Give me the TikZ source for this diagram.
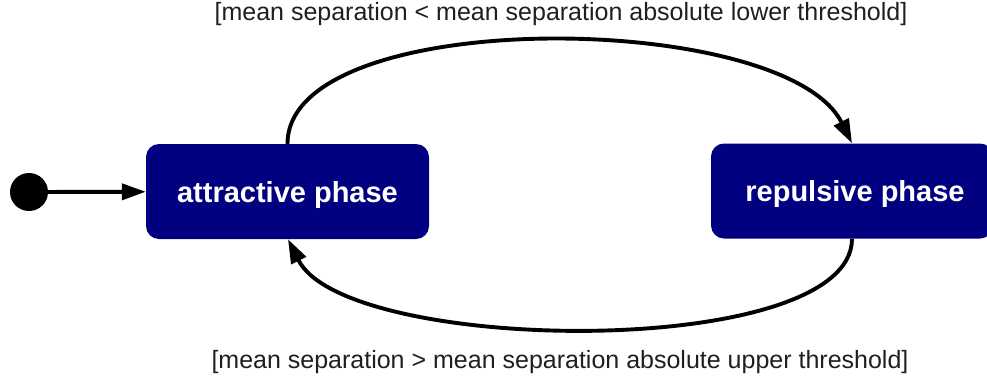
\documentclass[tikz,border=0pt]{standalone}
\usepackage{fontspec}
\setmainfont{Liberation Sans}
\usetikzlibrary{arrows.meta}
\definecolor{statefill}{HTML}{000080}
\tikzset{
  statebox/.style={draw=none, fill=statefill, rounded corners=13pt,
    minimum width=283pt, minimum height=95pt, inner sep=0pt,
    text height=21pt, text depth=0pt,
    text=white, font=\fontsize{29}{34}\selectfont\bfseries},
  guard/.style={inner sep=0pt, font=\fontsize{25}{30}\selectfont, text=black!88},
  initdot/.style={circle, fill=black, minimum size=38pt, inner sep=0pt},
  trans/.style={line width=3.9pt, -{Triangle[length=24pt,width=16pt]}}
}
\begin{document}
\begin{tikzpicture}[x=1pt,y=-1pt]
  \useasboundingbox (0,0) rectangle (987,383);
  % states
  \node[initdot] (init) at (29,192) {};
  \node[statebox] (attr) at (287.5,191.5) {attractive phase};
  \node[statebox, minimum width=282pt] (rep) at (852,191) {\hspace*{6pt}repulsive phase};
  % guards
  \node[guard] (lowlbl) at (561,14) {[mean separation < mean separation absolute lower threshold]};
  \node[guard] (uplbl) at (560,362) {[mean separation > mean separation absolute upper threshold]};
  % transitions
  \draw[trans] (init) -- (attr);
  \draw[trans] (attr.north) .. controls +(0,-139) and +(-67,-134) .. (rep.north);
  \draw[trans] (rep.south) .. controls +(0,122) and +(58,116) .. ([xshift=0.5pt]attr.south);
\end{tikzpicture}
\end{document}
